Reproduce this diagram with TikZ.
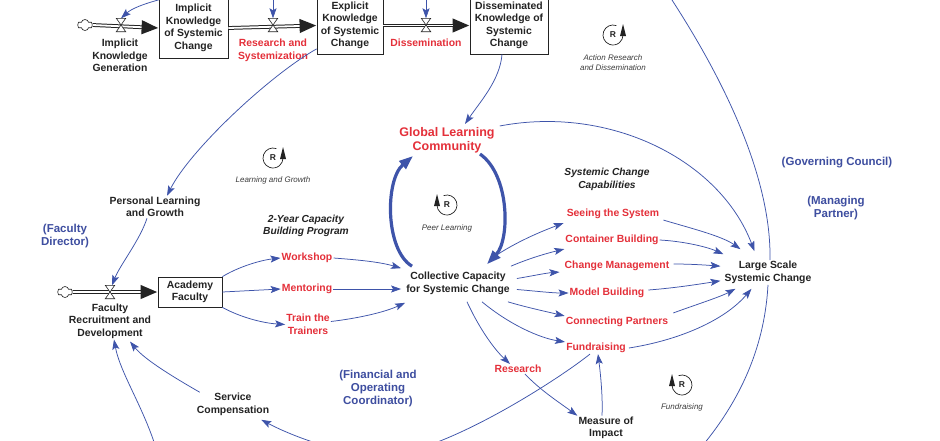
\documentclass[tikz,border=0pt]{standalone}
\usepackage{fontspec}
\setmainfont{Liberation Sans}
\usetikzlibrary{arrows.meta,shapes.symbols}
\definecolor{ink}{RGB}{35,35,35}
\definecolor{redl}{RGB}{228,48,58}
\definecolor{bluel}{RGB}{62,78,160}
\definecolor{arrowc}{RGB}{62,84,170}
\definecolor{grayl}{RGB}{60,60,60}
\tikzset{
 lbl/.style={font=\bfseries\fontsize{10.4}{12.5}\selectfont, text=ink, align=center, inner sep=1pt},
 rlbl/.style={lbl, text=redl},
 glcstyle/.style={font=\bfseries\fontsize{12.5}{14}\selectfont, text=redl, align=center, inner sep=1pt},
 blbl/.style={font=\bfseries\fontsize{11.5}{13}\selectfont, text=bluel, align=center, inner sep=1pt},
 ilbl/.style={font=\itshape\fontsize{8}{10.5}\selectfont, text=grayl, align=center, inner sep=1pt},
 bilbl/.style={font=\bfseries\itshape\fontsize{10.2}{12.5}\selectfont, text=ink, align=center, inner sep=1pt},
 stock/.style={draw=ink, line width=0.8pt, fill=white, align=center, font=\bfseries\fontsize{10.4}{12.5}\selectfont, text=ink, inner sep=0pt},
 valvebox/.style={minimum width=9pt, minimum height=13pt, inner sep=0pt},
 cloudn/.style={cloud, cloud puffs=6, draw=ink, line width=0.6pt, fill=white, minimum width=15pt, minimum height=11pt, inner sep=0pt},
 pipe/.style={draw=ink, line width=3.8pt, -{Triangle[length=17pt,width=13pt]}, postaction={draw=white, line width=1.8pt, -, shorten >=17pt}},
 arr/.style={draw=arrowc, line width=0.75pt, -{Stealth[length=10pt,width=7pt,inset=2pt]}},
 tharr/.style={draw=arrowc, line width=3.2pt, -{Triangle[length=14pt,width=10pt]}},
 rsym/.style={font=\bfseries\fontsize{8.5}{9}\selectfont, text=ink, inner sep=0pt}
}
\newcommand\myvalve[2]{\node[valvebox] (#1) at #2 {};
 \draw[ink, line width=0.6pt, fill=white] (#1.north west) -- (#1.north east) -- (#1.south west) -- (#1.south east) -- cycle;}
\newcommand\loopright[2]{\node[rsym] (#1) at #2 {R};
 \draw[ink, line width=0.7pt] (#1.center) ++(-70:10) arc[start angle=-70, end angle=-360, radius=10];
 \fill[ink] (#1.center) ++(7,1) -- ++(6,0) -- ++(-3,-12) -- cycle;}
\newcommand\loopleft[2]{\node[rsym] (#1) at #2 {R};
 \draw[ink, line width=0.7pt] (#1.center) ++(-110:10) arc[start angle=-110, end angle=180, radius=10];
 \fill[ink] (#1.center) ++(-13,1) -- ++(6,0) -- ++(-3,-12) -- cycle;}
\begin{document}
\begin{tikzpicture}[x=1pt,y=-1pt]
\useasboundingbox (0,0) rectangle (940,440);
\clip (0,0) rectangle (940,440);
\fill[white] (0,0) rectangle (940,440);

% stocks
\node[stock, minimum width=69pt, minimum height=60pt] (ik) at (193.5,28) {Implicit\\Knowledge\\of Systemic\\Change};
\node[stock, minimum width=66pt, minimum height=58pt] (ek) at (350,25.5) {Explicit\\Knowledge\\of Systemic\\Change};
\node[stock, minimum width=78pt, minimum height=57pt] (dk) at (509,25.5) {Disseminated\\Knowledge of\\Systemic\\Change};
\node[stock, minimum width=64pt, minimum height=30pt] (af) at (190,292) {Academy\\Faculty};

% clouds and pipes
\node[cloudn] (cl1) at (85,25) {};
\node[cloudn] (cl2) at (65,292) {};
\draw[pipe] (cl1.east) -- (ik.west);
\draw[pipe] (ik.east) -- (ek.west);
\draw[pipe] (ek.east) -- (dk.west);
\draw[pipe] (cl2.east) -- (af.west);
\myvalve{v1}{(121,25)}
\myvalve{v2}{(273,25)}
\myvalve{v3}{(426,25)}
\myvalve{v4}{(110,292)}

% labels
\node[lbl] (ikg) at (120,55.5) {Implicit\\Knowledge\\Generation};
\node[rlbl] (rs) at (273,50.5) {Research and\\Systemization};
\node[rlbl] (dis) at (426,43) {Dissemination};
\node[lbl] (plg) at (155,207) {Personal Learning\\and Growth};
\node[bilbl] (ycb) at (306,226) {2-Year Capacity\\Building Program};
\node[blbl] (fd) at (65,236.5) {(Faculty\\Director)};
\node[lbl] (frd) at (110,321) {Faculty\\Recruitment and\\Development};
\node[rlbl] (ws) at (307,258) {Workshop};
\node[rlbl] (ment) at (307,289) {Mentoring};
\node[rlbl] (ttt) at (308,324.5) {Train the\\Trainers};
\node[lbl] (cc) at (458,283.5) {Collective Capacity\\for Systemic Change};
\node[glcstyle] (glc) at (447,140) {Global Learning\\Community};
\node[bilbl] (scc) at (607,179.5) {Systemic Change\\Capabilities};
\node[rlbl] (sts) at (613,214) {Seeing the System};
\node[rlbl] (cb) at (612,240) {Container Building};
\node[rlbl] (cm) at (617,266) {Change Management};
\node[rlbl] (mb) at (607,293) {Model Building};
\node[rlbl] (cp) at (617,322) {Connecting Partners};
\node[rlbl] (fr) at (596,348) {Fundraising};
\node[rlbl] (res) at (518,369) {Research};
\node[lbl] (moi) at (606,428) {Measure of\\Impact};
\node[lbl] (sc) at (233,404.5) {Service\\Compensation};
\node[lbl] (ls) at (768,272.5) {Large Scale\\Systemic Change};
\node[blbl] (gc) at (837,163) {(Governing Council)};
\node[blbl] (mp) at (836,208) {(Managing\\Partner)};
\node[blbl] (foc) at (378,388.5) {(Financial and\\Operating\\Coordinator)};

% loop symbols
\loopright{r1}{(613,35)}
\node[ilbl] (l1) at (613,62.5) {Action Research\\and Dissemination};
\loopright{r2}{(273,158)}
\node[ilbl] (l2) at (273,180) {Learning and Growth};
\loopleft{r3}{(447,205)}
\node[ilbl] (l3) at (447,228) {Peer Learning};
\loopleft{r4}{(682,385)}
\node[ilbl] (l4) at (682,407) {Fundraising};

% off-picture sources of the valve links
\coordinate (t2) at (273,-30);
\coordinate (t3) at (426,-30);
\draw[arr] (t2) -- (v2.north);
\draw[arr] (t3) -- (v3.north);

% big loops
\draw[arr] ([xshift=2pt]ls.north) .. controls (772,160) and (701,45) .. (672,0)
  .. controls (628,-67) and (165,-22) .. (v1.north);
\draw[arr] (ls.south) .. controls (765,340) and (745,400) .. (690,460)
  .. controls (620,540) and (175,520) .. (155,445)
  .. controls (142,405) and (120,372) .. ([xshift=4pt]frd.south);

% knowledge links
\draw[arr] ([xshift=-7pt]dk.south) .. controls (500,80) and (480,102) .. ([xshift=18pt,yshift=2pt]glc.north);
\draw[arr] ([yshift=6pt]ek.south west) .. controls (270,75) and (190,150) .. ([xshift=12pt]plg.north);
\draw[arr] ([xshift=-8pt]plg.south) .. controls (140,240) and (120,265) .. ([xshift=2pt]v4.north);

% capacity building program
\draw[arr] (af.north east) .. controls (240,266) and (262,260) .. (ws.west);
\draw[arr] (af.east) -- (ment.west);
\draw[arr] (af.south east) .. controls (240,317) and (262,323) .. (ttt.west);
\draw[arr] (ws.east) .. controls (360,260) and (380,262) .. ([xshift=-4pt,yshift=3pt]cc.north west);
\draw[arr] (ment.east) -- ([xshift=-4pt,yshift=-5.5pt]cc.west);
\draw[arr] ([yshift=3pt]ttt.east) .. controls (360,318) and (385,312) .. ([yshift=-7pt]cc.south west);

% peer learning
\draw[tharr] ([xshift=-46pt,yshift=5pt]cc.north) .. controls (385,250) and (385,180) .. ([xshift=-34pt,yshift=-2pt]glc.south);
\draw[tharr] ([xshift=33pt]glc.south) .. controls (510,175) and (510,240) .. ([xshift=29pt,yshift=7pt]cc.north);
\draw[arr] ([xshift=4pt]glc.north east) .. controls (610,105) and (720,160) .. ([xshift=31pt,yshift=9pt]ls.north west);

% capabilities
\draw[arr] ([xshift=40pt,yshift=17pt]cc.north) .. controls (520,240) and (545,230) .. ([xshift=-2pt,yshift=-3pt]sts.south west);
\draw[arr] ([yshift=5pt]cc.north east) .. controls (530,258) and (548,253) .. ([yshift=-3pt]cb.south west);
\draw[arr] ([xshift=6pt,yshift=5pt]cc.east) .. controls (532,276) and (546,273) .. ([xshift=-4pt]cm.south west);
\draw[arr] ([xshift=6pt,yshift=-6pt]cc.east) .. controls (535,291) and (552,293) .. (mb.west);
\draw[arr] ([xshift=-3pt,yshift=-6pt]cc.south east) .. controls (525,307) and (548,312) .. (cp.north west);
\draw[arr] ([xshift=24pt,yshift=-6pt]cc.south) .. controls (510,325) and (540,338) .. (fr.north west);
\draw[arr] ([xshift=9pt,yshift=-6pt]cc.south) .. controls (480,330) and (495,350) .. ([xshift=-8pt]res.north);
\draw[arr] ([xshift=7pt]res.south) .. controls (540,390) and (560,403) .. (moi.north west);
\draw[arr] ([xshift=-4pt]moi.north) .. controls (603,395) and (600,370) .. ([xshift=2pt]fr.south);
\draw[arr] ([xshift=-6pt]fr.south) .. controls (555,382) and (440,455) .. (383,455)
  .. controls (340,455) and (290,435) .. ([xshift=-9pt,yshift=-3pt]sc.south east);
\draw[arr] ([xshift=4pt]sc.north west) .. controls (175,378) and (145,360) .. ([xshift=20pt,yshift=-2pt]frd.south);

% into large scale systemic change
\draw[arr] ([xshift=3pt]sts.south east) .. controls (690,228) and (722,236) .. ([xshift=17pt,yshift=11pt]ls.north west);
\draw[arr] (cb.east) .. controls (680,241) and (705,246) .. ([yshift=6pt]ls.north west);
\draw[arr] ([xshift=3pt,yshift=2pt]cm.east) .. controls (690,264) and (705,265) .. ([xshift=-3pt,yshift=-6pt]ls.north west);
\draw[arr] ([xshift=3pt,yshift=3pt]mb.east) .. controls (675,288) and (700,284) .. ([xshift=-3pt,yshift=4pt]ls.south west);
\draw[arr] ([xshift=4pt,yshift=3pt]cp.north east) .. controls (695,305) and (720,297) .. ([xshift=12pt,yshift=-4pt]ls.south west);
\draw[arr] ([xshift=2pt]fr.east) .. controls (680,340) and (725,320) .. ([xshift=28pt,yshift=-4pt]ls.south west);
\end{tikzpicture}
\end{document}
